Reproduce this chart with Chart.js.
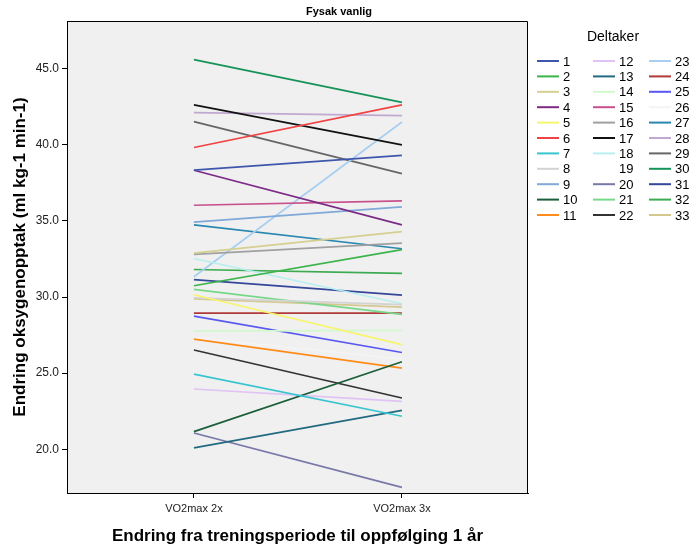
<!DOCTYPE html>
<html>
<head>
<meta charset="utf-8">
<script src="https://cdn.jsdelivr.net/npm/chart.js@4.4.0/dist/chart.umd.min.js"></script>
<style>
  body { margin: 0; background: #fff; }
  #wrap { width: 692px; height: 552px; }
</style>
</head>
<body>
<div id="wrap"><canvas id="myChart" width="692" height="552"></canvas></div>
<script>
const tittel = "Fysak vanlig";
const categories = ["VO2max 2x", "VO2max 3x"];
const deltaker = [
    "1", "2", "3", "4", "5", "6", "7", "8", "9", "10", "11",
    "12", "13", "14", "15", "16", "17", "18", "19", "20", "21", "22",
    "23", "24", "25", "26", "27", "28", "29", "30", "31", "32", "33"
];
// VO2max 2x
const pre = [
    38.33, 30.74, 32.88, 38.33, 30.15, 39.82, 24.94, 29.95, 34.92, 21.16, 27.24,
    23.96, 20.09, 27.76, 36.03, 32.80, 42.62, 32.53, null, 21.07, 30.50, 26.52,
    31.33, 28.94, 28.75, 27.33, 34.74, 42.11, 41.52, 45.59, 31.14, 31.81, 29.88
];
// VO2max 3x
const post = [
    39.31, 33.12, 34.30, 34.74, 26.87, 42.62, 22.17, 29.50, 35.92, 25.75, 25.33,
    23.15, 22.56, 27.81, 36.32, 33.54, 39.99, 29.56, null, 17.50, 28.86, 23.37,
    41.50, 28.94, 26.36, 25.93, 33.17, 41.92, 38.11, 42.79, 30.13, 31.55, 29.34
];
const yTicks = [20, 25, 30, 35, 40, 45];

const farger = [
    "#3e56ac", "#3cb44a", "#d6cf92", "#7b2a85", "#f7f56e", "#f04343", "#38c5cf", "#d3d3d3", "#80a8d8", "#1b5e3b", "#ff8c1a",
    "#e0c2f4", "#236a80", "#d2f8ce", "#c8508c", "#a0a0a0", "#111111", "#b8eef0", "rgba(0,0,0,0)", "#7878a8", "#78d88a", "#333333",
    "#a8cff0", "#b03a3a", "#5858f0", "#f4f4f4", "#2a88b0", "#c0a8d0", "#666666", "#17935a", "#34479a", "#3caa50", "#d4c890"
];

const datasets = deltaker.map(function (d, i) {
    return {
        label: d,
        data: [{ x: 0, y: pre[i] }, { x: 1, y: post[i] }],
        borderColor: farger[i],
        backgroundColor: farger[i],
        borderWidth: 1.7,
        pointRadius: 0,
        fill: false
    };
});

const font = "Arial, 'Liberation Sans', sans-serif";

// bakgrunn, ramme og tittel
const ramme = {
    id: "ramme",
    beforeDraw: function (chart) {
        const c = chart.ctx, a = chart.chartArea;
        c.save();
        c.fillStyle = "#fff";
        c.fillRect(0, 0, chart.width, chart.height);
        c.fillStyle = "#f0f0f0";
        c.fillRect(a.left, a.top, a.right - a.left, a.bottom - a.top);
        c.restore();
    },
    afterDraw: function (chart) {
        const c = chart.ctx, a = chart.chartArea;
        const t = Math.round(a.top) + 0.5, r = Math.round(a.right) - 0.5;
        const l = Math.round(a.left), b = Math.round(a.bottom);
        c.save();
        c.strokeStyle = "#000";
        c.lineWidth = 1;
        c.beginPath();
        c.moveTo(l, t);
        c.lineTo(r, t);
        c.lineTo(r, b);
        c.stroke();
        c.fillStyle = "#000";
        c.font = "bold 11px " + font;
        c.textAlign = "center";
        c.textBaseline = "middle";
        c.fillText(tittel, 339, 12);
        c.restore();
    }
};

// legende i tre kolonner
const legende = {
    id: "legende",
    afterDraw: function (chart) {
        const c = chart.ctx;
        const ds = chart.data.datasets;
        c.save();
        c.fillStyle = "#000";
        c.font = "14px " + font;
        c.textAlign = "center";
        c.textBaseline = "middle";
        c.fillText("Deltaker", 613, 37);
        c.font = "13px " + font;
        c.textAlign = "left";
        const colX = [537, 593, 649];
        ds.forEach(function (d, i) {
            const col = Math.floor(i / 11), row = i % 11;
            const x = colX[col], y = 61 + row * 15.4;
            c.strokeStyle = d.borderColor;
            c.lineWidth = 2;
            c.beginPath();
            c.moveTo(x, y);
            c.lineTo(x + 22, y);
            c.stroke();
            c.fillStyle = "#000";
            c.fillText(d.label, x + 26, y + 1);
        });
        c.restore();
    }
};

new Chart("myChart", {
    type: "line",
    data: { datasets: datasets },
    plugins: [ramme, legende],
    options: {
        responsive: false,
        animation: false,
        layout: { padding: { top: 21, right: 164, left: 0, bottom: 0 } },
        plugins: {
            legend: { display: false },
            tooltip: { enabled: false },
            title: { display: false }
        },
        scales: {
            x: {
                type: "linear",
                min: -0.61,
                max: 1.606,
                afterBuildTicks: function (s) { s.ticks = [{ value: 0 }, { value: 1 }]; },
                afterFit: function (s) { s.height = 59; },
                ticks: {
                    callback: function (v) { return categories[v]; },
                    color: "#222",
                    font: { family: font, size: 11 },
                    padding: 4,
                    maxRotation: 0
                },
                grid: { drawOnChartArea: false, drawTicks: true, tickLength: 5, color: "#000" },
                border: { display: true, color: "#000" },
                title: {
                    display: true,
                    text: "Endring fra treningsperiode til oppfølging 1 år",
                    color: "#000",
                    font: { family: font, size: 17, weight: "bold" },
                    padding: { top: 0, bottom: 5 }
                }
            },
            y: {
                min: 17.13,
                max: 48.13,
                afterBuildTicks: function (s) { s.ticks = yTicks.map(function (v) { return { value: v }; }); },
                afterFit: function (s) { s.width = 67; },
                ticks: {
                    callback: function (v) { return v.toFixed(1); },
                    color: "#222",
                    font: { family: font, size: 12 },
                    padding: 3
                },
                grid: { drawOnChartArea: false, drawTicks: true, tickLength: 5, color: "#000" },
                border: { display: true, color: "#000" },
                title: {
                    display: true,
                    text: "Endring oksygenopptak (ml kg-1 min-1)",
                    color: "#000",
                    font: { family: font, size: 17, weight: "bold" },
                    padding: { top: 10, bottom: 0 }
                }
            }
        }
    }
});
</script>
</body>
</html>
